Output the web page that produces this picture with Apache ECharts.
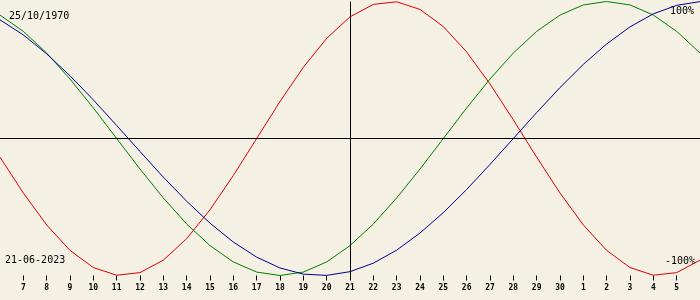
<!DOCTYPE html>
<html>
<head>
<meta charset="utf-8">
<script src="https://cdn.jsdelivr.net/npm/echarts@6/dist/echarts.min.js"></script>
<style>
html,body{margin:0;padding:0;background:#f4f0e4;}
#chart{width:700px;height:300px;}
</style>
</head>
<body>
<div id="chart"></div>
<script>
// Days shown (June 2023; values above 30 are July days)
var days = [6,7,8,9,10,11,12,13,14,15,16,17,18,19,20,21,22,23,24,25,26,27,28,29,30,31,32,33,34,35,36];
var tickDays = [7,8,9,10,11,12,13,14,15,16,17,18,19,20,21,22,23,24,25,26,27,28,29,30,31,32,33,34,35];
var currentDay = 21;
var birthLabel = '25/10/1970';
var dateLabel = '21-06-2023';
var topLabel = '100%';
var bottomLabel = '-100%';

// Physical (red)
var physical = [-0.136,-0.398,-0.631,-0.817,-0.942,-0.998,-0.979,-0.888,-0.731,-0.520,-0.270,0.000,0.270,0.520,0.731,0.888,0.979,0.998,0.942,0.817,0.631,0.398,0.136,-0.136,-0.398,-0.631,-0.817,-0.942,-0.998,-0.979,-0.888];
// Emotional (green)
var emotional = [0.901,0.782,0.624,0.434,0.223,0.000,-0.223,-0.434,-0.624,-0.782,-0.901,-0.975,-1.000,-0.975,-0.901,-0.782,-0.624,-0.434,-0.223,0.000,0.223,0.434,0.624,0.782,0.901,0.975,1.000,0.975,0.901,0.782,0.624];
// Intellectual (blue)
var intellectual = [0.866,0.756,0.618,0.458,0.282,0.095,-0.095,-0.282,-0.458,-0.618,-0.756,-0.866,-0.945,-0.990,-0.999,-0.972,-0.910,-0.815,-0.690,-0.541,-0.372,-0.189,0.000,0.189,0.372,0.541,0.690,0.815,0.910,0.972,0.999];

function pairs(vals){ return days.map(function(d,i){ return [d, vals[i]]; }); }

var FONT = '"DejaVu Sans Mono", monospace';
var chart = echarts.init(document.getElementById('chart'), null, {renderer:'canvas'});
chart.setOption({
  backgroundColor: '#f4f0e4',
  animation: false,
  grid: {left: 0, right: 0, top: 1.5, bottom: 24.5, containLabel: false, outerBoundsMode: 'none'},
  xAxis: {
    type: 'value', min: 6, max: 36, interval: 1, position: 'bottom',
    axisLine: {show: false, onZero: false},
    axisTick: {show: true, length: 5, customValues: tickDays, lineStyle: {color: '#000', width: 1}},
    splitLine: {show: false},
    axisLabel: {
      margin: 8, color: '#000', fontSize: 8, fontWeight: 'bold', fontFamily: FONT,
      customValues: tickDays,
      formatter: function(v){ return String(v > 30 ? v - 30 : v); }
    }
  },
  yAxis: {
    type: 'value', min: -1, max: 1,
    axisLine: {show: false}, axisTick: {show: false}, axisLabel: {show: false}, splitLine: {show: false}
  },
  series: [
    {type: 'line', data: pairs(physical), symbol: 'none', lineStyle: {color: '#e00000', width: 1}, z: 3,
     markLine: {silent: true, symbol: 'none', label: {show: false},
       lineStyle: {color: '#000', width: 1, type: 'solid'},
       data: [{yAxis: 0}, {xAxis: currentDay}]}},
    {type: 'line', data: pairs(emotional), symbol: 'none', lineStyle: {color: '#008000', width: 1}, z: 3},
    {type: 'line', data: pairs(intellectual), symbol: 'none', lineStyle: {color: '#000090', width: 1}, z: 3}
  ],
  graphic: [
    {type: 'text', left: 9, top: 11, style: {text: birthLabel, fill: '#000', font: '10px ' + FONT}},
    {type: 'text', left: 5, top: 255, style: {text: dateLabel, fill: '#000', font: '10px ' + FONT}},
    {type: 'text', right: 6, top: 6, style: {text: topLabel, fill: '#000', font: '10px ' + FONT}},
    {type: 'text', right: 5, top: 256, style: {text: bottomLabel, fill: '#000', font: '10px ' + FONT}}
  ]
});
</script>
</body>
</html>
